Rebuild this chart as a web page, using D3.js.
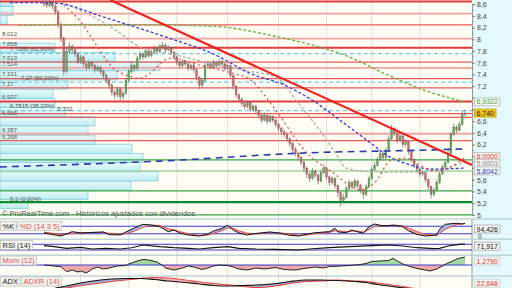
<!DOCTYPE html>
<html>
<head>
<meta charset="utf-8">
<script src="https://cdn.jsdelivr.net/npm/d3@7"></script>
<style>
  body { margin: 0; background: #fff; }
  svg { display: block; font-family: "Liberation Sans", Arial, sans-serif; }
</style>
</head>
<body>
<div id="chart"></div>
<script>
// ---- datos: velas (cierre, máximo, mínimo); apertura = cierre anterior
var firstOpen = 8.60;
var closes = [8.62,8.58,8.63,8.57,8.47,8.25,8.02,7.45,7.80,7.88, 7.82,7.75,7.62,7.70,7.58,7.52,7.60,7.55,7.48,7.52,
  7.45,7.38,7.30,7.22,7.10,7.05,7.15,7.02,7.08,7.30, 7.45,7.55,7.50,7.68,7.75,7.70,7.80,7.72,7.78,7.85,
  7.80,7.88,7.90,7.82,7.86,7.78,7.70,7.60,7.55,7.62, 7.58,7.50,7.55,7.48,7.35,7.22,7.30,7.55,7.58,7.52,
  7.60,7.55,7.62,7.58,7.50,7.55,7.38,7.20,7.05,6.98, 6.90,6.85,6.92,6.80,6.85,6.78,6.70,6.62,6.70,6.60,
  6.68,6.62,6.55,6.48,6.42,6.38,6.30,6.22,6.12,6.05, 5.98,5.90,5.80,5.70,5.62,5.75,5.68,5.58,5.72,5.80,
  5.65,5.55,5.62,5.50,5.38,5.25,5.30,5.45,5.55,5.48, 5.58,5.50,5.42,5.35,5.48,5.62,5.78,5.85,5.95,6.05,
  5.98,6.10,6.30,6.48,6.40,6.28,6.35,6.20,6.25,6.08, 5.95,5.85,5.78,5.70,5.72,5.60,5.48,5.35,5.42,5.55,
  5.70,5.82,5.90,6.05,6.38,6.50,6.45,6.55,6.72,6.74];
var highs = [8.68,8.66,8.69,8.66,8.60,8.50,8.30,8.05,7.85,7.95, 7.92,7.86,7.78,7.74,7.73,7.62,7.64,7.63,7.58,7.56,
  7.55,7.48,7.42,7.34,7.25,7.14,7.19,7.18,7.12,7.34, 7.49,7.60,7.58,7.72,7.80,7.78,7.84,7.83,7.82,7.90,
  7.88,7.93,7.96,7.93,7.90,7.88,7.80,7.73,7.64,7.66, 7.65,7.61,7.59,7.58,7.50,7.38,7.34,7.60,7.64,7.62,
  7.65,7.63,7.67,7.65,7.61,7.59,7.57,7.40,7.23,7.08, 7.01,6.94,6.96,6.94,6.89,6.88,6.80,6.73,6.75,6.72,
  6.72,6.70,6.65,6.58,6.51,6.46,6.41,6.33,6.25,6.16, 6.08,6.01,5.93,5.83,5.73,5.80,5.78,5.70,5.77,5.86,
  5.82,5.67,5.66,5.64,5.52,5.40,5.36,5.50,5.60,5.58, 5.63,5.60,5.53,5.45,5.52,5.66,5.82,5.90,6.00,6.12,
  6.08,6.15,6.35,6.54,6.50,6.42,6.39,6.37,6.30,6.27, 6.10,5.97,5.88,5.80,5.76,5.74,5.62,5.50,5.46,5.60,
  5.75,5.86,5.95,6.10,6.42,6.56,6.53,6.60,6.78,6.80];
var lows = [8.56,8.54,8.55,8.52,8.42,8.20,7.95,7.38,7.42,7.74, 7.76,7.70,7.58,7.58,7.54,7.47,7.49,7.50,7.43,7.45,
  7.40,7.33,7.25,7.16,7.04,6.98,7.01,6.96,6.97,7.05, 7.27,7.41,7.45,7.47,7.64,7.65,7.67,7.68,7.69,7.75,
  7.76,7.77,7.84,7.78,7.79,7.73,7.65,7.56,7.50,7.52, 7.54,7.46,7.47,7.43,7.30,7.15,7.18,7.28,7.52,7.48,
  7.50,7.51,7.53,7.54,7.46,7.47,7.34,7.15,7.00,6.93, 6.85,6.80,6.82,6.76,6.77,6.73,6.65,6.57,6.60,6.55,
  6.57,6.58,6.50,6.43,6.37,6.33,6.25,6.17,6.06,6.00, 5.93,5.85,5.74,5.64,5.56,5.60,5.63,5.52,5.55,5.69,
  5.60,5.50,5.52,5.45,5.30,5.15,5.20,5.28,5.42,5.44, 5.46,5.46,5.37,5.27,5.32,5.46,5.60,5.75,5.82,5.92,
  5.92,5.95,6.08,6.27,6.35,6.22,6.25,6.15,6.17,6.03, 5.90,5.80,5.73,5.65,5.66,5.55,5.43,5.28,5.32,5.40,
  5.53,5.68,5.79,5.88,6.02,6.35,6.40,6.42,6.52,6.68];

// medias móviles [índice de vela, precio]
var maGreen = [[-9,8.24],[10,8.25],[30,8.25],[50,8.24],[62,8.22],[72,8.15],[83,8.04],[92,7.94],[101,7.82],
  [110,7.66],[119,7.45],[127,7.28],[134,7.14],[142,7.02],[149,6.93]];
var maBlue = [[-12,8.63],[0,8.63],[6,8.61],[20,8.40],[35,8.17],[45,8.01],[60,7.75],[73,7.42],[85,7.22],
  [95,6.96],[105,6.61],[115,6.25],[122,6.00],[130,5.85],[137,5.78],[144,5.79],[149,5.80]];
var maGrey = [[6,8.63],[15,8.45],[25,8.17],[34,7.87],[45,7.75],[60,7.58],[72,7.46],[82,7.36],[90,6.91],
  [98,6.42],[103,6.07],[107,5.80],[115,5.74],[125,5.73],[135,5.74],[142,5.80],[149,5.90]];
var maRed = [[7,8.59],[13,8.30],[19,7.87],[24,7.53],[29,7.39],[34,7.34],[45,7.68],[55,7.56],[66,7.43],
  [73,7.31],[82,6.79],[93,6.06],[102,5.73],[112,5.43],[117,5.55],[123,5.94],[128,5.97],[133,5.85],
  [139,5.75],[144,5.82],[149,5.98]];
var maNavy = [[-15.6,5.82],[41,5.92],[93,6.06],[136.6,6.11],[149.7,6.13]];
var trendLine = [[23.4,8.673],[151.5,5.853]];

// soportes / resistencias
var redLevels = [8.648, 8.44, 8.25, 8.012, 7.858, 7.613, 7.514, 7.331, 7.17, 6.937, 6.732, 6.666, 6.387, 6.268];
var redWeight = [3, 1, 2, 1, 3, 2, 1, 2, 2, 3, 2, 2, 1, 2];
var redLabeled = [false, false, false, true, true, true, true, true, true, true, true, true, true, true];
var greenLevels = [5.94, 5.75, 5.41, 5.22, 5.0];
var greenWeight = [2, 1, 2, 3, 2];
var fibLevels = [7.7585, 7.27, 6.7815, 5.2];
var fibPct = ["61,80%", "50,00%", "38,20%", "0,00%"];

// volumen por precio
var profileBase = 5.109, profileStep = 0.157;
var profileVol = [28, 88, 131, 158, 140, 143, 132, 95, 88, 95, 65, 55, 53, 68, 117, 160, 115, 55, 0, 0, 7, 13, 13];

var gridIdx = [13, 30, 47, 65, 83, 100, 116, 133];

// indicadores
var stoIdx = [0,6,10,13,16,21,23,27,29,32,35,38,41,44,46,48,51,55,58,60,63,65,67,69,72,75,80,83,87,90,
  93,96,101,103,104,107,109,110,113,115,117,120,124,127,129,132,135,139,140,142,146,148,149];
var stoK = [30,10,39,30,33,37,19,17,37,63,88,83,72,39,50,30,17,10,23,43,61,81,50,30,17,27,37,30,15,10,
  23,32,39,61,37,32,50,43,28,72,90,77,83,72,45,21,10,17,55,88,95,90,94.4];
var stoD = [36,20,26,32,32,34,28,22,26,42,68,82,80,58,50,40,25,14,16,28,45,64,62,45,28,24,32,32,24,15,
  16,26,34,45,44,40,42,44,36,52,74,80,80,78,62,40,20,14,28,55,86,91,93];
var rsi = [[0,60],[3,55],[8,42],[13,48],[17,37],[22,42],[27,37],[31,46],[35,65],[41,53],[46,46],[51,42],
  [55,37],[60,46],[65,53],[69,42],[75,37],[82,35],[90,30],[94,37],[101,46],[108,53],[116,60],[122,65],
  [127,58],[132,46],[138,39],[140,42],[143,58],[147,70],[149,71.9]];
var mom = [[0,0],[2,-0.08],[5,-0.24],[6,-0.27],[8,-1.07],[10,-0.8],[12,-1.12],[13,-0.96],[15,-1.28],[17,-0.64],
  [19,-0.32],[21,-0.64],[23,-0.48],[26,-0.16],[29,-0.08],[30,0.16],[33,0.64],[35,0.88],[37,0.8],[40,0.48],
  [42,-0.08],[43,-0.48],[46,-0.8],[49,-0.48],[51,-0.16],[53,-0.32],[56,-0.72],[58,-0.48],[60,-0.16],[62,0],
  [65,-0.08],[67,-0.32],[69,-0.64],[72,-0.8],[75,-0.48],[78,-0.64],[82,-0.4],[85,-0.72],[89,-0.8],[92,-0.56],
  [96,-0.32],[99,-0.48],[101,-0.24],[105,-0.16],[108,-0.08],[112,0.08],[114,0.24],[116,0.56],[119,0.64],
  [122,0.72],[123.5,1.07],[125,0.64],[127,0.16],[129.5,-0.24],[132,-0.56],[135,-0.8],[136.6,-0.96],[139,-0.64],
  [141,-0.16],[142.6,0.24],[144.7,0.64],[146.5,1.04],[148.3,1.2],[149,1.279]];
var adxIdx = [4,8,12,16,20,24,29,34,39,44,50,55,60,66,71,75,82,87,93,98,104,110,114,118,122,126,130,135,140,145,149];
var adx = [24,28,33,37,40,42,43,43,41,38,35,32,29,28,29,30,33,37,40,40,39,37,35,31,28,25,22,18,17,19,21];
var adxr = [20,24,28,31,34,37,40,43,45,44,40,36,33,30,27,25,28,33,37,38,40,38,37,34,31,28,24,21,19,19,22.6];

// últimos valores (etiquetas del eje)
var priceTags = [6.9322, 6.740, 6.0000, 5.9003, 5.8042];
var priceTagDigits = [4, 3, 4, 4, 4];
var stoLast = 94.426, rsiLast = 71.917, momLast = 1.2790, adxrLast = 22.648;

// ---- dibujo
var W = 512, H = 288, R = 472;
var loc = d3.formatLocale({decimal: ",", thousands: ".", grouping: [3], currency: ["", "€"]});
function num(v, d) { return loc.format("." + d + "f")(v); }

var svg = d3.select("#chart").append("svg").attr("width", W).attr("height", H);

var opens = closes.map(function(c, i) { return i ? closes[i - 1] : firstOpen; });

var x = d3.scaleLinear().domain([0, closes.length - 1]).range([44, 465]);
var y = d3.scaleLinear().domain([5, 8.6]).range([214.9, 4.3]);
var ySto = d3.scaleLinear().domain([0, 100]).range([237.5, 222.5]);
var yRsi = d3.scaleLinear().domain([0, 100]).range([254.3, 240]);
var yMom = d3.scaleLinear().domain([0, 1.279]).range([265, 257]);
var yAdx = d3.scaleLinear().domain([0, 50]).range([300, 275]);

var panels = [["cMain", 0, 218.5], ["cSto", 219.5, 239], ["cRsi", 239.8, 255], ["cMom", 255.8, 275.5], ["cAdx", 276.5, 288]];
var defs = svg.append("defs");
panels.forEach(function(p) {
  defs.append("clipPath").attr("id", p[0]).append("rect")
    .attr("x", 0).attr("y", p[1]).attr("width", R).attr("height", p[2] - p[1]);
});
var grad = defs.append("linearGradient").attr("id", "volGrad").attr("x1", 0).attr("x2", 0).attr("y1", 0).attr("y2", 1);
grad.append("stop").attr("offset", "0%").attr("stop-color", "#e9fbfc");
grad.append("stop").attr("offset", "100%").attr("stop-color", "#bdebf0");

// fondos
svg.append("rect").attr("width", R).attr("height", H).attr("fill", "#fdfdf3");
svg.append("rect").attr("x", R).attr("width", W - R).attr("height", H).attr("fill", "#e4f9fd");

// rejilla vertical
svg.append("g").selectAll("line").data(gridIdx).enter().append("line")
  .attr("x1", function(d) { return x(d); }).attr("x2", function(d) { return x(d); })
  .attr("y1", 0).attr("y2", H).attr("stroke", "#dedede").attr("stroke-width", 1);

// panel principal
var main = svg.append("g").attr("clip-path", "url(#cMain)");

main.selectAll("rect.vol").data(profileVol).enter().append("rect")
  .attr("class", "vol")
  .attr("x", 0)
  .attr("y", function(d, k) { return y(profileBase + profileStep * (k + 1)); })
  .attr("width", function(d) { return d; })
  .attr("height", function(d, k) { return y(profileBase + profileStep * k) - y(profileBase + profileStep * (k + 1)); })
  .attr("fill", "url(#volGrad)")
  .attr("stroke", function(d) { return d ? "#86cfd8" : "none"; })
  .attr("stroke-width", 0.8);

var redStyle = {3: ["#e63b3b", 2], 2: ["#ea5a5a", 1.3], 1: ["#f4a3a3", 1.8]};
main.selectAll("line.res").data(redLevels).enter().append("line")
  .attr("x1", 0).attr("x2", R)
  .attr("y1", function(d) { return y(d); }).attr("y2", function(d) { return y(d); })
  .attr("stroke", function(d, i) { return redStyle[redWeight[i]][0]; })
  .attr("stroke-width", function(d, i) { return redStyle[redWeight[i]][1]; });

var greenStyle = {3: ["#0c8d2c", 2.2], 2: ["#3aa64a", 1.3], 1: ["#9fd59f", 1.6]};
main.selectAll("line.sup").data(greenLevels).enter().append("line")
  .attr("x1", 0).attr("x2", R)
  .attr("y1", function(d) { return y(d); }).attr("y2", function(d) { return y(d); })
  .attr("stroke", function(d, i) { return greenStyle[greenWeight[i]][0]; })
  .attr("stroke-width", function(d, i) { return greenStyle[greenWeight[i]][1]; });

main.selectAll("line.fib").data(fibLevels.slice(0, 3)).enter().append("line")
  .attr("x1", 0).attr("x2", R)
  .attr("y1", function(d) { return y(d); }).attr("y2", function(d) { return y(d); })
  .attr("stroke", "#72c9f0").attr("stroke-width", 1.3).attr("stroke-dasharray", "4,3");

// etiquetas izquierda (se desplazan a la derecha si chocan con otra)
var leftLabels = [];
redLevels.forEach(function(v, i) {
  if (redLabeled[i]) leftLabels.push({v: v, x: 2, txt: loc.format(".4~f")(v)});
});
fibLevels.forEach(function(v, i) {
  leftLabels.push({v: v, x: 10, txt: loc.format(".4~f")(v) + " (" + fibPct[i] + ")"});
});
leftLabels.sort(function(a, b) { return b.v - a.v; });
var placed = [];
leftLabels.forEach(function(l) {
  var t = main.append("text").attr("x", l.x).attr("y", y(l.v) - 2.2)
    .attr("font-size", 6).attr("fill", "#555").text(l.txt);
  var b = t.node().getBBox();
  placed.forEach(function(p) {
    if (b.x < p.x + p.width && b.x + b.width > p.x && b.y < p.y + p.height - 1 && b.y + b.height - 1 > p.y) {
      t.attr("x", p.x + p.width + 3);
      b = t.node().getBBox();
    }
  });
  placed.push(b);
});

// velas
main.selectAll("line.wick").data(closes).enter().append("line")
  .attr("x1", function(d, i) { return x(i); }).attr("x2", function(d, i) { return x(i); })
  .attr("y1", function(d, i) { return y(highs[i]); }).attr("y2", function(d, i) { return y(lows[i]); })
  .attr("stroke", "#6a6a6a").attr("stroke-width", 0.7);
main.selectAll("rect.body").data(closes).enter().append("rect")
  .attr("x", function(d, i) { return x(i) - 0.9; }).attr("width", 1.8)
  .attr("y", function(d, i) { return y(Math.max(opens[i], d)); })
  .attr("height", function(d, i) { return Math.max(0.8, Math.abs(y(opens[i]) - y(d))); })
  .attr("fill", function(d, i) { return d >= opens[i] ? "#55b955" : "#e2606a"; })
  .attr("stroke", "#5f5f5f").attr("stroke-width", 0.35);

// medias y tendencia
var ma = d3.line().x(function(d) { return x(d[0]); }).y(function(d) { return y(d[1]); }).curve(d3.curveMonotoneX);
[[maNavy, "#2b3aa6", 1.6, "7,5"], [maGreen, "#6bb04a", 1.4, "3,2"], [maGrey, "#aaaaaa", 1.2, "3,2"],
 [maBlue, "#3c3cd6", 1.3, "3,2"], [maRed, "#e44646", 1.2, "2,3"]].forEach(function(m) {
  main.append("path").attr("d", ma(m[0])).attr("fill", "none")
    .attr("stroke", m[1]).attr("stroke-width", m[2]).attr("stroke-dasharray", m[3]);
});
main.append("path").attr("d", d3.line().x(function(d) { return x(d[0]); }).y(function(d) { return y(d[1]); })(trendLine))
  .attr("stroke", "#f02222").attr("stroke-width", 2.2).attr("fill", "none");

main.append("text").attr("x", 2).attr("y", 216).attr("font-size", 7.5).attr("fill", "#555")
  .text("© ProRealTime.com - Históricos ajustados con dividendos");

// posiciones de las etiquetas de precio (sin solaparse)
var tagY = [], lastY = -100;
priceTags.forEach(function(v) {
  var cy = Math.max(y(v), lastY + 7.3);
  tagY.push(cy);
  lastY = cy;
});

// eje de precios
var axis = svg.append("g").attr("transform", "translate(" + R + ",0)")
  .call(d3.axisRight(y).tickValues(y.ticks(18)).tickSize(3).tickPadding(2).tickFormat(loc.format(".1~f")));
axis.select(".domain").attr("stroke", "#9a9a9a");
axis.selectAll(".tick line").attr("stroke", "#8a8a8a");
axis.selectAll("text").attr("font-size", 7).attr("fill", "#444").attr("font-family", "Liberation Sans, Arial, sans-serif");
axis.selectAll(".tick").filter(function(d) {
  return tagY.some(function(t) { return Math.abs(t - y(d)) < 6.5; });
}).select("text").remove();
svg.append("g").selectAll("line").data(y.ticks(36)).enter().append("line")
  .attr("x1", R).attr("x2", R + 1.6).attr("y1", function(d) { return y(d); }).attr("y2", function(d) { return y(d); })
  .attr("stroke", "#8a8a8a");
svg.append("line").attr("x1", R).attr("x2", R).attr("y1", 219).attr("y2", H).attr("stroke", "#9a9a9a");

// separadores de paneles
svg.append("g").selectAll("line").data([219, 239.3, 255.3, 276]).enter().append("line")
  .attr("x1", 0).attr("x2", W).attr("y1", function(d) { return d; }).attr("y2", function(d) { return d; })
  .attr("stroke", "#bfd5de").attr("stroke-width", 1.6);

// estocástico
var sto = svg.append("g").attr("clip-path", "url(#cSto)");
sto.selectAll("line.g").data([75, 25]).enter().append("line")
  .attr("x1", 0).attr("x2", R).attr("y1", function(d) { return ySto(d); }).attr("y2", function(d) { return ySto(d); })
  .attr("stroke", "#3b3bd8").attr("stroke-width", 1);
sto.selectAll("path.f").data(d3.range(stoIdx.length - 1)).enter().append("path")
  .attr("d", function(j) {
    return "M" + x(stoIdx[j]) + "," + ySto(stoK[j]) + "L" + x(stoIdx[j + 1]) + "," + ySto(stoK[j + 1]) +
      "L" + x(stoIdx[j + 1]) + "," + ySto(stoD[j + 1]) + "L" + x(stoIdx[j]) + "," + ySto(stoD[j]) + "Z";
  })
  .attr("fill", function(j) { return stoK[j] + stoK[j + 1] > stoD[j] + stoD[j + 1] ? "#aab6ea" : "#f1a9a9"; });
var lsK = d3.line().x(function(d, j) { return x(stoIdx[j]); }).y(function(d) { return ySto(d); });
sto.append("path").attr("d", lsK(stoD)).attr("fill", "none").attr("stroke", "#e24a4a").attr("stroke-width", 1);
sto.append("path").attr("d", lsK(stoK)).attr("fill", "none").attr("stroke", "#111").attr("stroke-width", 1);

// RSI
var rs = svg.append("g").attr("clip-path", "url(#cRsi)");
rs.selectAll("line.g").data([70, 30]).enter().append("line")
  .attr("x1", 0).attr("x2", R).attr("y1", function(d) { return yRsi(d); }).attr("y2", function(d) { return yRsi(d); })
  .attr("stroke", "#3b3bd8").attr("stroke-width", 1);
rs.append("path").attr("d", d3.line().x(function(d) { return x(d[0]); }).y(function(d) { return yRsi(d[1]); })(rsi))
  .attr("fill", "none").attr("stroke", "#111").attr("stroke-width", 1.2);

// Momentum
var mo = svg.append("g").attr("clip-path", "url(#cMom)");
defs.append("clipPath").attr("id", "momUp").append("rect").attr("x", 0).attr("y", 240).attr("width", R).attr("height", yMom(0) - 240);
defs.append("clipPath").attr("id", "momDn").append("rect").attr("x", 0).attr("y", yMom(0)).attr("width", R).attr("height", 30);
var momArea = d3.area().x(function(d) { return x(d[0]); }).y0(yMom(0)).y1(function(d) { return yMom(d[1]); });
mo.append("path").attr("d", momArea(mom)).attr("fill", "#a3d9a0").attr("clip-path", "url(#momUp)");
mo.append("path").attr("d", momArea(mom)).attr("fill", "#eeaaaa").attr("clip-path", "url(#momDn)");
mo.append("line").attr("x1", 0).attr("x2", R).attr("y1", yMom(0)).attr("y2", yMom(0)).attr("stroke", "#3b3bd8");
mo.append("path").attr("d", d3.line().x(function(d) { return x(d[0]); }).y(function(d) { return yMom(d[1]); })(mom))
  .attr("fill", "none").attr("stroke", "#222").attr("stroke-width", 1);

// ADX
var ad = svg.append("g").attr("clip-path", "url(#cAdx)");
ad.selectAll("path.f").data(d3.range(adxIdx.length - 1)).enter().append("path")
  .attr("d", function(j) {
    return "M" + x(adxIdx[j]) + "," + yAdx(adx[j]) + "L" + x(adxIdx[j + 1]) + "," + yAdx(adx[j + 1]) +
      "L" + x(adxIdx[j + 1]) + "," + yAdx(adxr[j + 1]) + "L" + x(adxIdx[j]) + "," + yAdx(adxr[j]) + "Z";
  })
  .attr("fill", function(j) { return adx[j] + adx[j + 1] > adxr[j] + adxr[j + 1] ? "#a7a9d6" : "#f0b4b4"; });
var la = d3.line().x(function(d, j) { return x(adxIdx[j]); }).y(function(d) { return yAdx(d); }).curve(d3.curveMonotoneX);
ad.append("path").attr("d", la(adxr)).attr("fill", "none").attr("stroke", "#e24a4a").attr("stroke-width", 1.2);
ad.append("path").attr("d", la(adx)).attr("fill", "none").attr("stroke", "#111").attr("stroke-width", 1.2);

// etiquetas de paneles
function panelTag(x0, y0, txt, color) {
  var g = svg.append("g");
  var t = g.append("text").attr("x", x0 + 2).attr("y", y0 + 7).attr("font-size", 7.5).attr("fill", color).text(txt);
  var w = t.node().getComputedTextLength() + 4;
  g.insert("rect", "text").attr("x", x0).attr("y", y0).attr("width", w).attr("height", 9)
    .attr("fill", "#f3f3ef").attr("stroke", "#c4c4c4").attr("stroke-width", 0.8);
  return x0 + w + 1.5;
}
var nx = panelTag(0.5, 221.5, "%K", "#222");
panelTag(nx, 221.5, "%D (14 3 5)", "#e05050");
panelTag(0.5, 240.5, "RSI (14)", "#222");
panelTag(0.5, 256, "Mom (12)", "#e05050");
nx = panelTag(0.5, 277, "ADX", "#222");
panelTag(nx, 277, "ADXR (14)", "#e05050");

// etiquetas de valores a la derecha
function valueTag(cy, txt, color, fill, stroke) {
  var g = svg.append("g");
  var t = g.append("text").attr("x", 476.5).attr("y", cy + 2.5).attr("font-size", 7).attr("fill", color).text(txt);
  var w = t.node().getComputedTextLength() + 4;
  g.insert("rect", "text").attr("x", 474.5).attr("y", cy - 4).attr("width", w).attr("height", 8)
    .attr("fill", fill).attr("stroke", stroke).attr("stroke-width", 0.8);
}
var tagColors = [["#48a83a", "#f6f6ef", "#bbbbbb"], ["#111", "#f6c41c", "#c9a000"], ["#e03030", "#f6f6f2", "#bbbbbb"],
  ["#888", "#f6f6f2", "#bbbbbb"], ["#2040c8", "#f6f6f2", "#bbbbbb"]];
priceTags.forEach(function(v, i) {
  valueTag(tagY[i], num(v, priceTagDigits[i]), tagColors[i][0], tagColors[i][1], tagColors[i][2]);
});
svg.append("text").attr("x", 478).attr("y", 238.5).attr("font-size", 6.5).attr("fill", "#444").text("0");
valueTag(ySto(stoLast) + 5.7, num(stoLast, 3), "#111", "#f6f6f2", "#aaaaaa");
valueTag(yRsi(rsiLast) + 2.2, num(rsiLast, 3), "#111", "#f6f6f2", "#aaaaaa");
valueTag(yMom(momLast) + 4, num(momLast, 4), "#e03030", "#f6f6f2", "#cccccc");
valueTag(Math.min(yAdx(adxrLast) + 1.5, H - 4.8), num(adxrLast, 3), "#e03030", "#f6f6f2", "#cccccc");
</script>
</body>
</html>
